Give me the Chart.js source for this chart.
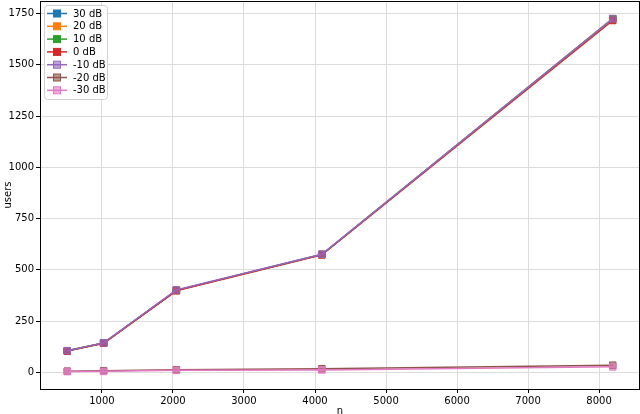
<!DOCTYPE html>
<html>
<head>
<meta charset="utf-8">
<script src="https://cdn.jsdelivr.net/npm/chart.js@4/dist/chart.umd.min.js"></script>
<style>
  html, body { margin: 0; padding: 0; background: #fff; }
  #wrap { width: 640px; height: 414px; }
</style>
</head>
<body>
<div id="wrap"><canvas id="myChart" width="640" height="414"></canvas></div>
<script>
// data
const nValues = [512, 1024, 2048, 4096, 8192];
const labels = ["30 dB", "20 dB", "10 dB", "0 dB", "-10 dB", "-20 dB", "-30 dB"];
const users30 = [105, 143, 400, 575, 1725];
const users20 = [105, 143, 400, 575, 1725];
const users10 = [105, 143, 400, 575, 1724];
const users0 = [104, 142, 398, 573, 1716];
const usersM10 = [106, 144, 402, 576, 1724];
const usersM20 = [6, 8, 13, 18, 35];
const usersM30 = [4, 5, 10, 12, 27];
const xTicks = [1000, 2000, 3000, 4000, 5000, 6000, 7000, 8000];
const yTicks = [0, 250, 500, 750, 1000, 1250, 1500, 1750];

const colors = ["#1f77b4", "#ff7f0e", "#2ca02c", "#d62728", "#9467bd", "#8c564b", "#e377c2"];
const hollow = [false, false, false, false, true, true, true];
const allSeries = [users30, users20, users10, users0, usersM10, usersM20, usersM30];

const datasets = allSeries.map((vals, i) => ({
  label: labels[i],
  data: vals.map((v, j) => ({ x: nValues[j], y: v })),
  order: -i, // later series on top, like matplotlib
  borderColor: colors[i],
  backgroundColor: hollow[i] ? colors[i] + "99" : colors[i],
  pointBackgroundColor: hollow[i] ? colors[i] + "99" : colors[i],
  pointBorderColor: colors[i],
  borderWidth: 1.5,
  pointStyle: "rect",
  pointRadius: 4.6,
  pointBorderWidth: 1,
  tension: 0
}));

// legend + axis titles + frame, drawn like matplotlib
const extras = {
  id: "extras",
  afterDraw(chart) {
    const ctx = chart.ctx;
    const a = chart.chartArea;
    ctx.save();
    // frame
    ctx.strokeStyle = "#000";
    ctx.lineWidth = 1;
    ctx.strokeRect(a.left + 0.5, a.top + 0.5, a.right - a.left - 1, a.bottom - a.top);
    // legend box
    const lx = 44, ly = 5, lw = 63, lh = 94;
    ctx.fillStyle = "rgba(255,255,255,0.85)";
    ctx.strokeStyle = "#d0d0d0";
    ctx.beginPath();
    ctx.roundRect(lx + 0.5, ly + 0.5, lw, lh, 3);
    ctx.fill();
    ctx.stroke();
    ctx.font = "10px 'DejaVu Sans'";
    ctx.textBaseline = "middle";
    ctx.textAlign = "left";
    chart.data.datasets.forEach((ds, i) => {
      const y = 13.5 + i * 12.8;
      ctx.strokeStyle = ds.borderColor;
      ctx.lineWidth = 1.5;
      ctx.beginPath();
      ctx.moveTo(47, y);
      ctx.lineTo(67, y);
      ctx.stroke();
      ctx.fillStyle = ds.pointBackgroundColor;
      ctx.fillRect(53.5, y - 3.5, 7, 7);
      ctx.strokeStyle = ds.pointBorderColor;
      ctx.lineWidth = 1;
      ctx.strokeRect(53.5, y - 3.5, 7, 7);
      ctx.fillStyle = "#000";
      ctx.fillText(ds.label, 73, y + 0.5);
    });
    // axis titles
    ctx.fillStyle = "#000";
    ctx.textAlign = "center";
    ctx.fillText("n", (a.left + a.right) / 2, 411);
    ctx.translate(8, (a.top + a.bottom) / 2);
    ctx.rotate(-Math.PI / 2);
    ctx.fillText("users", 0, 0);
    ctx.restore();
  }
};

const tickFont = { family: "DejaVu Sans", size: 10 };

const config = {
  type: "line",
  data: { datasets },
  options: {
    responsive: false,
    animation: false,
    layout: { autoPadding: false, padding: { top: 1, right: 0, left: 0, bottom: 0 } },
    plugins: { legend: { display: false }, tooltip: { enabled: false } },
    scales: {
      x: {
        type: "linear",
        min: 128,
        max: 8576,
        afterBuildTicks: s => { s.ticks = xTicks.map(v => ({ value: v })); },
        afterFit: s => { s.height = 25; s.paddingLeft = 0; s.paddingRight = 0; },
        grid: { color: "#dcdcdc", lineWidth: 1, tickLength: 4, tickColor: "#000" },
        border: { display: false },
        ticks: { color: "#000", font: tickFont, maxRotation: 0, padding: 2, autoSkip: false,
                 callback: v => String(v) }
      },
      y: {
        type: "linear",
        min: -81,
        max: 1811,
        afterBuildTicks: s => { s.ticks = yTicks.map(v => ({ value: v })); },
        afterFit: s => { s.width = 40; s.paddingTop = 0; s.paddingBottom = 0; },
        grid: { color: "#dcdcdc", lineWidth: 1, tickLength: 4, tickColor: "#000" },
        border: { display: false },
        ticks: { color: "#000", font: tickFont, padding: 2, autoSkip: false,
                 callback: v => String(v) }
      }
    }
  },
  plugins: [extras]
};
const myChart = new Chart(document.getElementById("myChart"), config);
</script>
</body>
</html>
